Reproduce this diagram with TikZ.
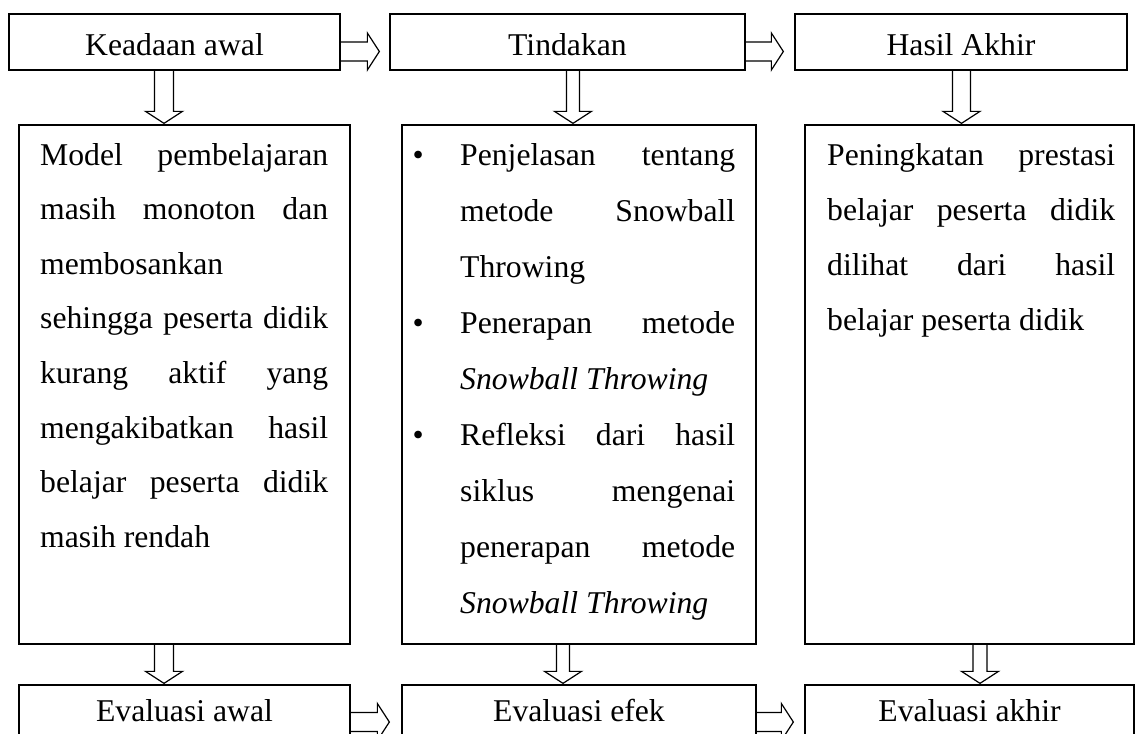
\documentclass[tikz,border=0pt]{standalone}
\usepackage{fontspec}
\setmainfont{Liberation Serif}
\usetikzlibrary{calc}
\tikzset{
  box/.style={draw, line width=1.3pt, inner sep=0pt},
  topbox/.style={box, minimum height=56pt, text height=27pt, text depth=1pt, font=\fontsize{31.7}{38}\selectfont},
  botbox/.style={box, minimum height=56pt, text height=18pt, text depth=1pt, font=\fontsize{31.7}{38}\selectfont},
  bigbox/.style={box, minimum height=519pt},
  para/.style={inner sep=0pt, anchor=base west, font=\fontsize{31.7}{55}\selectfont},
  arrowline/.style={draw, line width=1.2pt, line join=miter},
}
% justified line of given width
\newcommand\jl[2]{\hbox to #1{#2}}
% plain (left) line
\newcommand\pl[1]{\hbox{#1}}
% bulleted justified line
\newcommand\bl[2]{\hbox{\llap{\textbullet\hspace{36.5pt}}\hbox to #1{#2}}}
% #1 shaft half width, #2 start, #3 end
\newcommand\fatarrow[3]{%
  \path #2 coordinate (fa0) #3 coordinate (fa1);
  \coordinate (fab) at ($(fa1)!12pt!(fa0)$);
  \draw[arrowline] ($(fa0)!#1!90:(fa1)$) -- ($(fab)!#1!-90:(fa0)$) -- ($(fab)!18.5pt!-90:(fa0)$) -- (fa1)
     -- ($(fab)!18.5pt!90:(fa0)$) -- ($(fab)!#1!90:(fa0)$) -- ($(fa0)!#1!-90:(fa1)$);
}
\begin{document}
\begin{tikzpicture}[x=1pt,y=-1pt]
\useasboundingbox (0,0) rectangle (1136,734);
\clip (0,0) rectangle (1136,734);
% top row
\node[topbox, minimum width=331pt] (k1) at (174.5,42) {Keadaan awal};
\node[topbox, minimum width=355pt] (k2) at (567.5,42) {Tindakan};
\node[topbox, minimum width=332pt] (k3) at (961,42) {Hasil Akhir};
% middle row
\node[bigbox, minimum width=331pt] (m1) at (184.5,384.5) {};
\node[bigbox, minimum width=354pt] (m2) at (579,384.5) {};
\node[bigbox, minimum width=329pt] (m3) at (969.5,384.5) {};
% bottom row
\node[botbox, minimum width=331pt] (e1) at (184.5,713) {Evaluasi awal};
\node[botbox, minimum width=354pt] (e2) at (579,713) {Evaluasi efek};
\node[botbox, minimum width=329pt] (e3) at (969.5,713) {Evaluasi akhir};
% texts
\node[para] (t1) at (40,165) {\vtop{\baselineskip=54.6pt
\jl{288pt}{Model pembelajaran}
\jl{288pt}{masih monoton dan}
\pl{membosankan}
\jl{288pt}{sehingga peserta didik}
\jl{288pt}{kurang aktif yang}
\jl{288pt}{mengakibatkan hasil}
\jl{288pt}{belajar peserta didik}
\pl{masih rendah}}};
\node[para] (t2) at (460,165) {\vtop{\baselineskip=56pt
\bl{275pt}{Penjelasan tentang}
\jl{275pt}{metode Snowball}
\pl{Throwing}
\bl{275pt}{Penerapan metode}
\pl{\itshape Snowball Throwing}
\bl{275pt}{Refleksi dari hasil}
\jl{275pt}{siklus mengenai}
\jl{275pt}{penerapan metode}
\pl{\itshape Snowball Throwing}}};
\node[para] (t3) at (827,165) {\vtop{\baselineskip=55pt
\jl{288pt}{Peningkatan prestasi}
\jl{288pt}{belajar peserta didik}
\jl{288pt}{dilihat dari hasil}
\pl{belajar peserta didik}}};
% arrows top row
\fatarrow{9.5pt}{($(k1.east)+(0,9.5)$)}{($(k2.west)+(-10,9.5)$)}
\fatarrow{9.5pt}{($(k2.east)+(0,9.5)$)}{($(k3.west)+(-11,9.5)$)}
% arrows down to middle
\fatarrow{9.5pt}{($(k1.south)+(-10.5,0)$)}{($(m1.north)+(-20.5,-1)$)}
\fatarrow{6.5pt}{($(k2.south)+(5.5,0)$)}{($(m2.north)+(-6,-1)$)}
\fatarrow{9pt}{($(k3.south)+(0.5,0)$)}{($(m3.north)+(-8,-1)$)}
% arrows down to bottom
\fatarrow{9.5pt}{($(m1.south)+(-20.5,0)$)}{($(e1.north)+(-20.5,-1)$)}
\fatarrow{6.5pt}{($(m2.south)+(-16,0)$)}{($(e2.north)+(-16,-1)$)}
\fatarrow{7pt}{($(m3.south)+(10.5,0)$)}{($(e3.north)+(10.5,-1)$)}
% arrows bottom row
\fatarrow{9.5pt}{($(e1.east)+(0,9)$)}{($(e2.west)+(-12,9)$)}
\fatarrow{9.5pt}{($(e2.east)+(0,9)$)}{($(e3.west)+(-11,9)$)}
\end{tikzpicture}
\end{document}
